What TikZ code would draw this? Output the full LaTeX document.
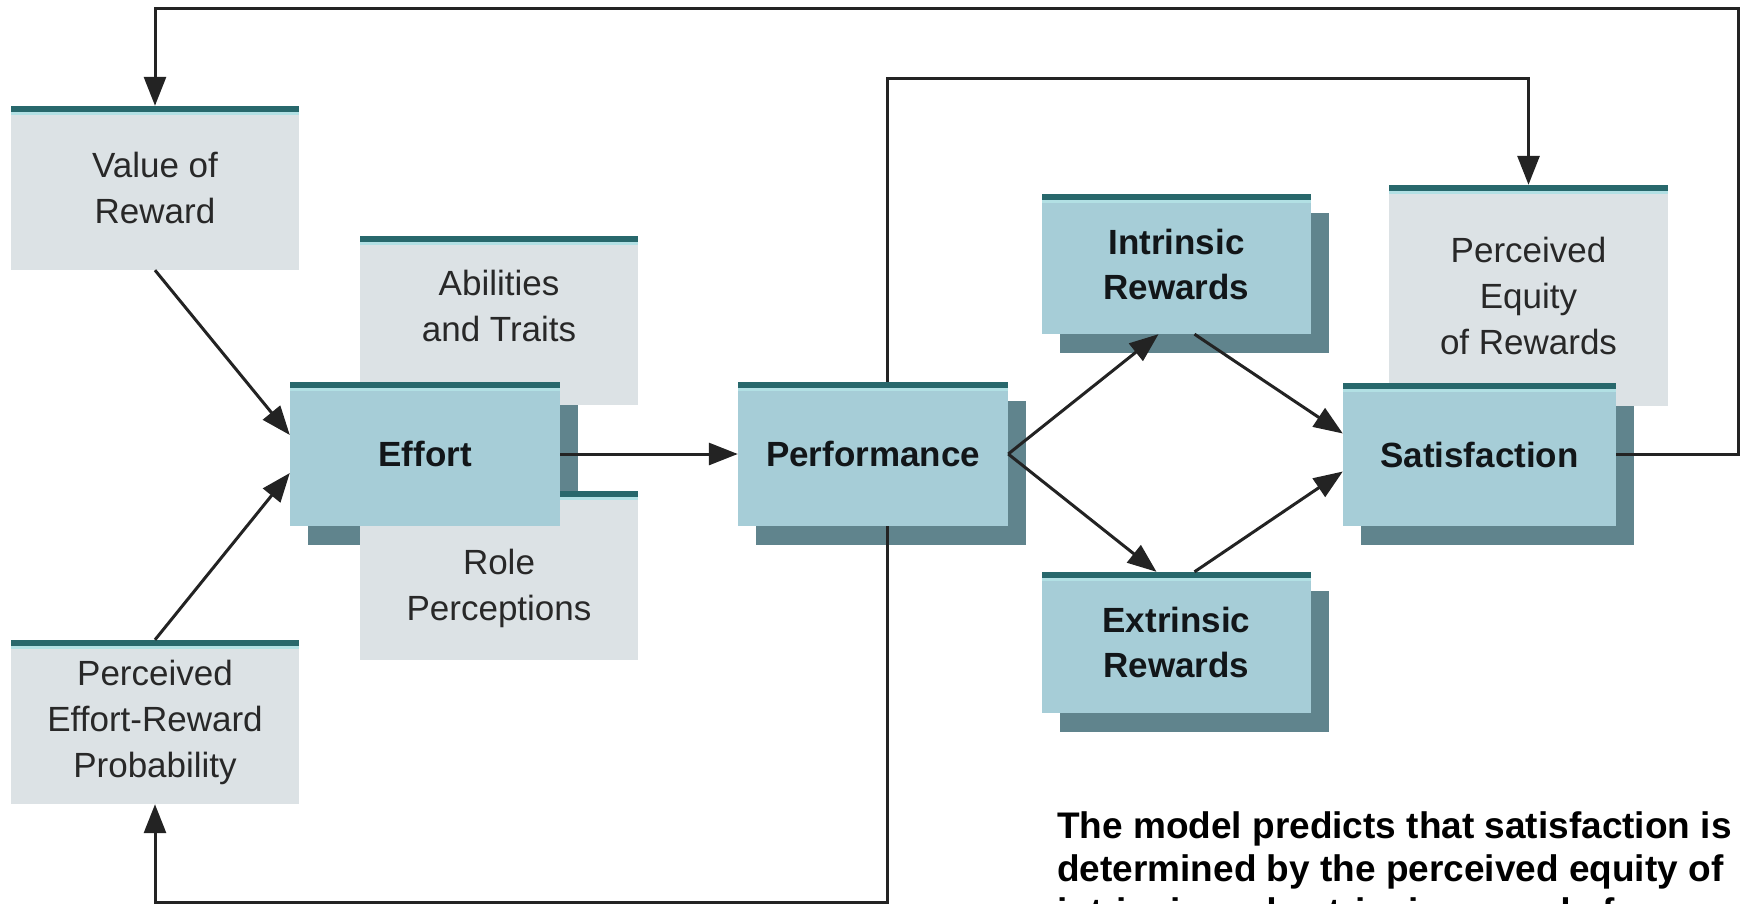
\documentclass[tikz,border=0pt]{standalone}
\usepackage{fontspec}
\setmainfont{Liberation Sans}
\usetikzlibrary{arrows.meta}

\definecolor{lightfill}{RGB}{220,226,229}
\definecolor{mainfill}{RGB}{166,205,215}
\definecolor{shadefill}{RGB}{96,132,141}
\definecolor{barteal}{RGB}{40,104,108}
\definecolor{barlight}{RGB}{178,224,228}
\definecolor{textgray}{RGB}{40,40,40}
\definecolor{textdark}{RGB}{18,22,25}
\definecolor{linegray}{RGB}{35,35,35}

\pgfdeclarelayer{shade}
\pgfsetlayers{shade,main}

\tikzset{
    box/.style={rectangle, inner sep=0pt, align=center,
        path picture={
            \fill[barteal] (path picture bounding box.north west) rectangle ([yshift=-6pt]path picture bounding box.north east);
            \fill[barlight] ([yshift=-6pt]path picture bounding box.north west) rectangle ([yshift=-9pt]path picture bounding box.north east);
        }},
    lightbox/.style={box, fill=lightfill, text=textgray, font=\fontsize{35}{46}\selectfont},
    mainbox/.style={box, fill=mainfill, text=textdark, font=\fontsize{35}{45}\selectfont\bfseries},
    lbl/.style={align=center, inner sep=0pt, text=textgray, font=\fontsize{35}{46}\selectfont},
    conn/.style={draw=linegray, line width=3pt, -{Triangle[length=29pt,width=22pt]}},
}

\begin{document}
\begin{tikzpicture}[x=1pt, y=-1pt]
            \useasboundingbox (0,0) rectangle (1747,904);

            % grey side boxes first, the blue ones sit on top of them
            \node [lightbox, minimum width=288pt, minimum height=164pt] (value) at (155,188) {Value of\\Reward};
            \node [lightbox, minimum width=288pt, minimum height=164pt] (effrew) at (155,722) {Perceived\\Effort-Reward\\Probability};
            \node [lightbox, minimum width=278pt, minimum height=169pt,
                   label={[lbl, yshift=14pt]center:Abilities\\and Traits}] (abil) at (499,320) {};
            \node [lightbox, minimum width=278pt, minimum height=169pt,
                   label={[lbl, yshift=-13pt]center:Role\\Perceptions}] (role) at (499,575.5) {};
            \node [lightbox, minimum width=279pt, minimum height=221pt] (equity) at (1528.5,295.5) {Perceived\\Equity\\of Rewards};

            \node [mainbox, minimum width=270pt, minimum height=144pt] (effort) at (425,454) {Effort};
            \node [mainbox, minimum width=270pt, minimum height=144pt] (perf) at (873,454) {Performance};
            \node [mainbox, minimum width=269pt, minimum height=140pt] (intr) at (1176.5,264) {Intrinsic\\Rewards};
            \node [mainbox, minimum width=269pt, minimum height=141pt] (extr) at (1176.5,642.5) {Extrinsic\\Rewards};
            \node [mainbox, minimum width=273pt, minimum height=143pt] (satis) at (1479.5,454.5) {Satisfaction};

            % solid drop shadows behind everything
            \begin{pgfonlayer}{shade}
                \foreach \n in {effort,perf,intr,extr,satis}
                    \fill[shadefill] ([shift={(18pt,-19pt)}]\n.north west) rectangle ([shift={(18pt,-19pt)}]\n.south east);
            \end{pgfonlayer}

            \coordinate (upT) at (887,79);
            \coordinate (lowB) at (887,902);
            \coordinate (outR) at (1738,9);

            \draw [conn] (value.south) to ([yshift=19pt]effort.west);
            \draw [conn] (effrew.north) to ([yshift=-19pt]effort.west);
            \draw [conn] (effort.east) to (perf.west);
            \draw [conn] (perf.east) to ([xshift=-18pt]intr.south);
            \draw [conn] (perf.east) to ([xshift=-20pt]extr.north);
            \draw [conn] ([xshift=18pt]intr.south) to ([yshift=21pt]satis.west);
            \draw [conn] ([xshift=18pt]extr.north) to ([yshift=-17pt]satis.west);

            % feedback loops
            \draw [conn] (perf.north -| upT) -- (upT) -| (equity.north);
            \draw [conn] (perf.south -| lowB) -- (lowB) -| (effrew.south);
            \draw [conn] (satis.east) -| (outR) -| (value.north);

            \node [anchor=north west, align=left, inner sep=0pt, text=black,
                   font=\fontsize{37}{43}\selectfont\bfseries] (note) at (1057,811)
                {The model predicts that satisfaction is\\determined by the perceived equity of\\intrinsic and extrinsic rewards for};
\end{tikzpicture}
\end{document}
